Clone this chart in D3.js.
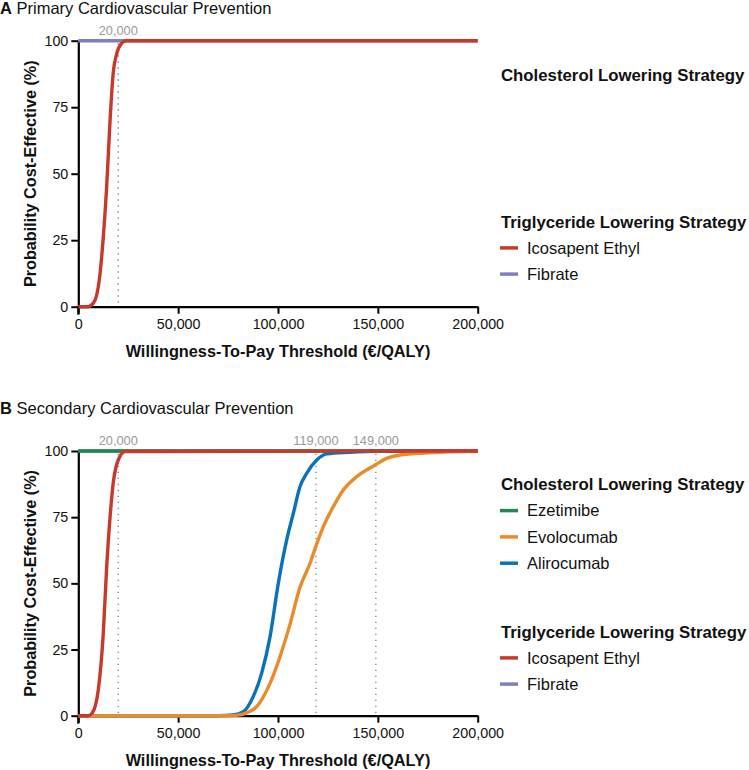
<!DOCTYPE html>
<html>
<head>
<meta charset="utf-8">
<script src="https://cdn.jsdelivr.net/npm/d3@7"></script>
<style>
  html, body { margin: 0; padding: 0; background: #fff; }
  svg { display: block; font-family: "Liberation Sans", Arial, sans-serif; }
</style>
</head>
<body>
<svg id="chart" width="749" height="770"></svg>
<script>
// ---------- DATA ----------
const xTicks = [0, 50000, 100000, 150000, 200000];
const yTicks = [0, 25, 50, 75, 100];

// Panel A: Primary prevention
const wtpA_ipe  = [0, 5000, 6000, 8400, 10500, 12500, 14200, 15900, 17500, 19200, 21700, 24000, 200000];
const probA_ipe = [0, 0, 0.3, 2.5, 10, 26, 45, 70, 88, 95, 99, 100, 100];
const wtpA_fib  = [0, 200000];
const probA_fib = [100, 100];
const thresholdsA = [20000];

// Panel B: Secondary prevention
const wtpB_ipe  = [0, 5000, 7000, 10000, 12500, 14200, 15900, 17500, 20000, 23400, 200000];
const probB_ipe = [0, 0, 1, 9.7, 31, 56, 75, 88, 96.6, 99.8, 100];
const wtpB_fib  = [0, 200000];
const probB_fib = [100, 100];
const wtpB_eze  = [0, 200000];
const probB_eze = [100, 100];
const wtpB_ali  = [0, 70000, 77500, 82600, 87600, 91800, 96000, 100150, 104350, 107700, 111000, 114400, 119400, 124400, 136000, 150000, 200000];
const probB_ali = [0, 0, 0.3, 1.5, 7.2, 16, 29.8, 50, 66.4, 76.5, 86.5, 91.6, 96.6, 98.9, 99.5, 99.9, 100];
const wtpB_evo  = [0, 75000, 80000, 84000, 89300, 96000, 101000, 106000, 111000, 116000, 118500, 122700, 127700, 132700, 139400, 148600, 154400, 161000, 175000, 186000, 200000];
const probB_evo = [0, 0, 0.2, 1, 3.4, 12.2, 22.3, 34.5, 48.5, 57.5, 63, 71.4, 79, 85.3, 90.3, 94.7, 97.2, 98.5, 99.3, 99.7, 99.9];
const thresholdsB = [20000, 119000, 149000];

const cholNamesA = [];
const trigNames = ["Icosapent Ethyl", "Fibrate"];
const cholNamesB = ["Ezetimibe", "Evolocumab", "Alirocumab"];

const colors = {
  "Icosapent Ethyl": "#c8392b",
  "Fibrate": "#7f7fc0",
  "Ezetimibe": "#23874f",
  "Evolocumab": "#eb8a2a",
  "Alirocumab": "#0a72bd"
};

// ---------- DRAW ----------
const svg = d3.select("#chart");
const fmt = d3.format(",");

function panel(opts) {
  const x = d3.scaleLinear().domain([0, 200000]).range([78.3, 477.7]);
  const y = d3.scaleLinear().domain([0, 100]).range([opts.y0, opts.y100]);
  const g = svg.append("g");

  // title
  const t = g.append("text").attr("x", 0).attr("y", opts.titleY)
    .attr("font-size", 16.5).attr("fill", "#111");
  t.append("tspan").attr("font-weight", "bold").text(opts.letter);
  t.append("tspan").text(" " + opts.title);

  // threshold lines
  opts.thresholds.forEach(v => {
    g.append("line")
      .attr("x1", x(v)).attr("x2", x(v))
      .attr("y1", y(99)).attr("y2", y(0))
      .attr("stroke", "#888").attr("stroke-width", 1.4)
      .attr("stroke-dasharray", "1.4,4.6");
    g.append("text").attr("x", x(v)).attr("y", y(100) - 6)
      .attr("text-anchor", "middle").attr("font-size", 12.8)
      .attr("fill", "#999").text(fmt(v));
  });

  // axes
  const xAxis = d3.axisBottom(x).tickValues(xTicks).tickFormat(fmt)
    .tickSize(7).tickSizeOuter(0).tickPadding(5);
  const yAxis = d3.axisLeft(y).tickValues(yTicks)
    .tickSize(7).tickSizeOuter(0).tickPadding(3);

  const gx = g.append("g").attr("transform", `translate(0,${y(0)})`).call(xAxis);
  const gy = g.append("g").attr("transform", `translate(${x(0)},0)`).call(yAxis);
  [gx, gy].forEach(a => {
    a.selectAll("path.domain").attr("stroke", "#000").attr("stroke-width", 2.2);
    a.selectAll(".tick line").attr("stroke", "#000").attr("stroke-width", 2);
    a.selectAll(".tick text").attr("font-size", 14.3).attr("fill", "#111")
      .attr("font-family", "Liberation Sans, Arial, sans-serif");
  });
  // extend y axis line downward to tick length
  g.append("line").attr("x1", x(0)).attr("x2", x(0))
    .attr("y1", y(0)).attr("y2", y(0) + 8)
    .attr("stroke", "#000").attr("stroke-width", 2.2);

  // axis labels
  g.append("text")
    .attr("x", (x(0) + x(200000)) / 2).attr("y", y(0) + 50)
    .attr("text-anchor", "middle").attr("font-size", 16.3).attr("font-weight", "bold")
    .attr("fill", "#111").text("Willingness-To-Pay Threshold (€/QALY)");
  g.append("text")
    .attr("transform", `translate(36,${(y(0) + y(100)) / 2}) rotate(-90)`)
    .attr("text-anchor", "middle").attr("font-size", 16.2).attr("font-weight", "bold")
    .attr("fill", "#111").text("Probability Cost-Effective (%)");

  // curves
  const line = d3.line().x(d => x(d[0])).y(d => y(d[1])).curve(d3.curveMonotoneX);
  opts.series.forEach(s => {
    const pts = s.wtp.map((w, i) => [w, s.prob[i]]);
    g.append("path").datum(pts).attr("d", line)
      .attr("fill", "none").attr("stroke", colors[s.name])
      .attr("stroke-width", 3.4).attr("stroke-linejoin", "round").attr("stroke-linecap", "butt");
  });

  // legend
  const lx = 501;
  g.append("text").attr("x", lx).attr("y", opts.legCholY).attr("dy", "0.35em")
    .attr("font-size", 16.8).attr("font-weight", "bold").attr("fill", "#111")
    .text("Cholesterol Lowering Strategy");
  opts.cholNames.forEach((n, i) => {
    const yy = opts.legCholY + 26.3 * (i + 1);
    g.append("line").attr("x1", lx - 1).attr("x2", lx + 17).attr("y1", yy).attr("y2", yy)
      .attr("stroke", colors[n]).attr("stroke-width", 3.5);
    g.append("text").attr("x", lx + 26).attr("y", yy).attr("dy", "0.35em")
      .attr("font-size", 16.5).attr("fill", "#111").text(n);
  });
  g.append("text").attr("x", lx).attr("y", opts.legTrigY).attr("dy", "0.35em")
    .attr("font-size", 16.8).attr("font-weight", "bold").attr("fill", "#111")
    .text("Triglyceride Lowering Strategy");
  trigNames.forEach((n, i) => {
    const yy = opts.legTrigY + 26.2 * (i + 1);
    g.append("line").attr("x1", lx - 1).attr("x2", lx + 17).attr("y1", yy).attr("y2", yy)
      .attr("stroke", colors[n]).attr("stroke-width", 3.5);
    g.append("text").attr("x", lx + 26).attr("y", yy).attr("dy", "0.35em")
      .attr("font-size", 16.5).attr("fill", "#111").text(n);
  });
}

panel({
  letter: "A", title: "Primary Cardiovascular Prevention", titleY: 14,
  y0: 306.7, y100: 40.7,
  thresholds: thresholdsA,
  series: [
    { name: "Fibrate", wtp: wtpA_fib, prob: probA_fib },
    { name: "Icosapent Ethyl", wtp: wtpA_ipe, prob: probA_ipe }
  ],
  cholNames: cholNamesA, legCholY: 75, legTrigY: 221.7
});

panel({
  letter: "B", title: "Secondary Cardiovascular Prevention", titleY: 414,
  y0: 715.7, y100: 451,
  thresholds: thresholdsB,
  series: [
    { name: "Fibrate", wtp: wtpB_fib, prob: probB_fib },
    { name: "Ezetimibe", wtp: wtpB_eze, prob: probB_eze },
    { name: "Alirocumab", wtp: wtpB_ali, prob: probB_ali },
    { name: "Evolocumab", wtp: wtpB_evo, prob: probB_evo },
    { name: "Icosapent Ethyl", wtp: wtpB_ipe, prob: probB_ipe }
  ],
  cholNames: cholNamesB, legCholY: 484.3, legTrigY: 631.7
});
</script>
</body>
</html>
